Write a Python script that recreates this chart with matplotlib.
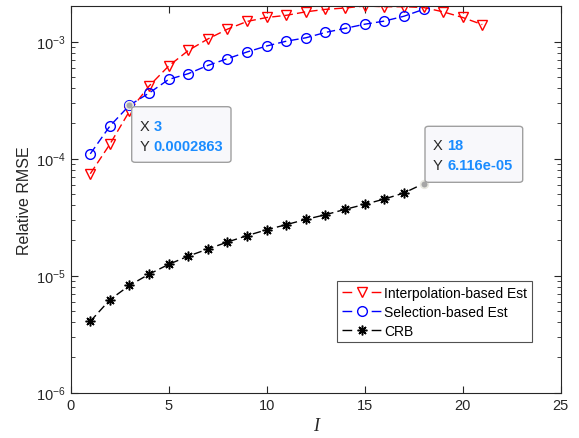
import matplotlib
matplotlib.use("Agg")
import matplotlib.pyplot as plt
import numpy as np
from matplotlib.lines import Line2D
from matplotlib.patches import FancyBboxPatch

plt.rcParams['font.family'] = ['Liberation Sans', 'DejaVu Sans']

# RMSE curves vs. I
I_interp = np.arange(1, 22)
rmse_interp = [7.44e-5, 1.33e-4, 2.55e-4, 4.18e-4, 6.2e-4, 8.41e-4, 1.055e-3,
               1.28e-3, 1.49e-3, 1.61e-3, 1.68e-3, 1.80e-3, 1.89e-3, 1.94e-3,
               2.02e-3, 1.99e-3, 1.99e-3, 1.96e-3, 1.80e-3, 1.61e-3, 1.40e-3]

I_sel = np.arange(1, 19)
rmse_sel = [1.10e-4, 1.90e-4, 2.863e-4, 3.64e-4, 4.76e-4, 5.33e-4, 6.27e-4,
            7.16e-4, 8.17e-4, 9.19e-4, 1.01e-3, 1.08e-3, 1.20e-3, 1.30e-3,
            1.41e-3, 1.50e-3, 1.65e-3, 1.89e-3]

I_crb = np.arange(1, 19)
crb = [4.07e-6, 6.23e-6, 8.26e-6, 1.03e-5, 1.25e-5, 1.47e-5, 1.69e-5,
       1.94e-5, 2.20e-5, 2.47e-5, 2.73e-5, 3.03e-5, 3.32e-5, 3.69e-5,
       4.07e-5, 4.52e-5, 5.09e-5, 6.116e-5]

labels = ['Interpolation-based Est', 'Selection-based Est', 'CRB']

# data tips: (x, y)
tips = [(3, 2.863e-4), (18, 6.116e-05)]
tip_text = ["0.0002863", "6.116e-05"]

fig = plt.figure(figsize=(5.79, 4.39), dpi=100)
ax = fig.add_axes([0.1221, 0.1032, 0.8463, 0.8815])

dash = (6, 3)
styles = [dict(color='red', marker='v', ms=7, mfc='none', mew=1.0),
          dict(color='blue', marker='o', ms=7, mfc='none', mew=1.0),
          dict(color='black', marker=(8, 2, 0), ms=7, mew=1.1)]

ax.semilogy(I_interp, rmse_interp, ls='--', dashes=dash, lw=1.0, **styles[0])
ax.semilogy(I_sel, rmse_sel, ls='--', dashes=dash, lw=1.0, **styles[1])
ax.semilogy(I_crb, crb, ls='--', dashes=dash, lw=1.0, markevery=range(17),
            **styles[2])

ax.set_xlim(0, 25)
ax.set_ylim(1e-6, 2.03e-3)
ax.set_xticks([0, 5, 10, 15, 20, 25])

edge = '#262626'
for s in ax.spines.values():
    s.set_color(edge)
    s.set_linewidth(0.8)
ax.tick_params(which='both', direction='in', top=True, right=True, colors=edge,
               labelsize=10.5)
ax.tick_params(which='major', length=5)
ax.tick_params(which='minor', length=3)
ax.tick_params(axis='x', which='minor', bottom=False, top=False)

ax.set_ylabel('Relative RMSE', fontsize=11.5, color=edge, labelpad=3)
ax.set_xlabel('I', fontsize=13, color=edge, family='Liberation Serif',
              style='italic', labelpad=4)

# legend handles: dash - marker - dash
handles = [Line2D([], [], ls='--', dashes=(7, 14), lw=1.0, **st) for st in styles]
leg = ax.legend(handles, labels, loc='lower right', bbox_to_anchor=(0.942, 0.13),
                fontsize=10, frameon=True, fancybox=False, edgecolor=edge,
                handlelength=2.8, handletextpad=0.25, borderpad=0.35,
                labelspacing=0.33, borderaxespad=0)
leg.get_frame().set_linewidth(0.8)

# data tip boxes
boxes = [((131.7, 107.7), (99.3, 55.6)), ((425, 127.3), (97.7, 56))]
H = 439
for (x, y), txt, ((bx, by), (bw, bh)) in zip(tips, tip_text, boxes):
    ax.plot([x], [y], 'o', ms=5.5, mfc='#a6a6a6', mec='#e8e8e0', mew=1.2,
            zorder=6)
    p = FancyBboxPatch((bx / 579, 1 - (by + bh) / H), bw / 579, bh / H,
                       boxstyle='round,pad=0,rounding_size=0.006',
                       transform=fig.transFigure, fc='#f8f8fb', ec='#a0a0a0',
                       lw=1.0, zorder=7)
    fig.add_artist(p)
    tx = (bx + 8) / 579
    fig.text(tx, 1 - (by + 19) / H, 'X', fontsize=10.5, color='#262626',
             va='center', zorder=8)
    fig.text(tx + 14 / 579, 1 - (by + 19) / H, str(x), fontsize=10.5,
             color='#1a8cff', weight='bold', va='center', zorder=8)
    fig.text(tx, 1 - (by + 39) / H, 'Y', fontsize=10.5, color='#262626',
             va='center', zorder=8)
    fig.text(tx + 14 / 579, 1 - (by + 39) / H, txt, fontsize=10.5,
             color='#1a8cff', weight='bold', va='center', zorder=8)

fig.savefig('out.png', dpi=100)
